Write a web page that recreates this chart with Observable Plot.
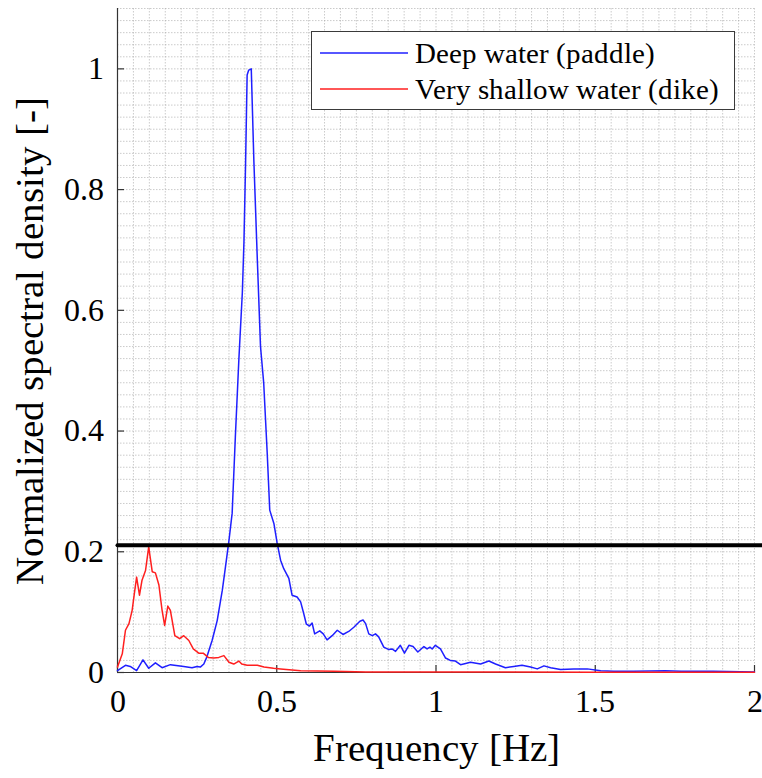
<!DOCTYPE html>
<html>
<head>
<meta charset="utf-8">
<script src="https://cdn.jsdelivr.net/npm/d3@7"></script>
<script src="https://cdn.jsdelivr.net/npm/@observablehq/plot@0.6"></script>
<style>
@font-face { font-family: "ChartSerif"; src: local("Liberation Serif"), local("LiberationSerif"), local("LiberationSerif-Regular"), local("Times New Roman"); }
body { margin: 0; }
</style>
</head>
<body>
<div id="wrap" style="position: relative; width: 762px; height: 778px; font-family: ChartSerif, 'Liberation Serif', serif">
  <div id="legend" style="position: absolute; left: 311px; top: 31px; width: 424px; height: 79px; box-sizing: border-box; border: 1.5px solid #3a3a3a; background: #fff; padding-top: 3px; z-index: 2">
    <div style="display: flex; align-items: center; height: 36px"><svg width="88" height="6" style="margin-left: 8px; margin-right: 7px"><line x1="0" y1="3" x2="88" y2="3" stroke-width="1.5"/></svg><span style="font-size: 29px; white-space: nowrap">Deep water (paddle)</span></div>
    <div style="display: flex; align-items: center; height: 36px"><svg width="88" height="6" style="margin-left: 8px; margin-right: 7px"><line x1="0" y1="3" x2="88" y2="3" stroke-width="1.5"/></svg><span style="font-size: 29px; white-space: nowrap">Very shallow water (dike)</span></div>
  </div>
  <div id="plot"></div>
</div>
<script>
// ---- data ----
const seriesNames = ["Deep water (paddle)", "Very shallow water (dike)"];
const seriesColors = ["#1f1fff", "#ff1f1f"];

const deepFreq = [0, 0.025, 0.04, 0.06, 0.08, 0.098, 0.119, 0.14, 0.166, 0.208, 0.234, 0.25, 0.26, 0.271, 0.28, 0.297, 0.313, 0.329, 0.339, 0.35,
  0.36, 0.37, 0.381, 0.392, 0.397, 0.402, 0.407, 0.412, 0.42, 0.428, 0.439, 0.449, 0.459, 0.47, 0.478, 0.491, 0.501, 0.512, 0.522, 0.538,
  0.548, 0.564, 0.575, 0.585, 0.593, 0.603, 0.611, 0.619, 0.635, 0.646, 0.658, 0.674, 0.69, 0.708, 0.726, 0.742, 0.761, 0.771, 0.779, 0.789,
  0.8, 0.81, 0.82, 0.836, 0.852, 0.862, 0.873, 0.888, 0.901, 0.915, 0.928, 0.943, 0.962, 0.972, 0.981, 0.988, 0.998, 1.014, 1.03, 1.045,
  1.061, 1.077, 1.093, 1.108, 1.14, 1.166, 1.187, 1.218, 1.244, 1.27, 1.297, 1.318, 1.339, 1.36, 1.391, 1.433, 1.475, 1.517, 1.558, 1.62,
  1.72, 1.77, 1.87, 2.0];
const deepDensity = [0.003, 0.012, 0.01, 0.003, 0.021, 0.007, 0.016, 0.008, 0.013, 0.01, 0.008, 0.01, 0.009, 0.014, 0.025, 0.053, 0.086, 0.136, 0.175, 0.219,
  0.264, 0.39, 0.518, 0.63, 0.713, 0.84, 0.99, 0.998, 1.0, 0.85, 0.684, 0.54, 0.48, 0.364, 0.269, 0.247, 0.215, 0.186, 0.172, 0.156,
  0.128, 0.125, 0.117, 0.097, 0.08, 0.077, 0.082, 0.064, 0.069, 0.064, 0.054, 0.061, 0.07, 0.063, 0.068, 0.075, 0.085, 0.087, 0.081, 0.064,
  0.061, 0.064, 0.059, 0.042, 0.038, 0.039, 0.035, 0.045, 0.032, 0.045, 0.043, 0.034, 0.043, 0.039, 0.042, 0.039, 0.045, 0.039, 0.024, 0.02,
  0.019, 0.013, 0.015, 0.017, 0.014, 0.019, 0.014, 0.008, 0.01, 0.012, 0.009, 0.006, 0.011, 0.008, 0.005, 0.006, 0.006, 0.003, 0.002, 0.002,
  0.003, 0.002, 0.002, 0.001];

const shallowFreq = [0, 0.015, 0.025, 0.036, 0.046, 0.053, 0.06, 0.069, 0.077, 0.088, 0.098, 0.109, 0.119, 0.13, 0.14, 0.148, 0.158, 0.166, 0.18, 0.195,
  0.208, 0.224, 0.238, 0.255, 0.269, 0.285, 0.302, 0.318, 0.334, 0.35, 0.365, 0.381, 0.39, 0.407, 0.439, 0.46, 0.49, 0.512, 0.575, 0.68,
  0.78, 1.0, 1.5, 2.0];
const shallowDensity = [0.009, 0.031, 0.07, 0.081, 0.103, 0.131, 0.158, 0.128, 0.153, 0.169, 0.208, 0.167, 0.165, 0.145, 0.103, 0.078, 0.11, 0.103, 0.061, 0.056,
  0.061, 0.053, 0.039, 0.032, 0.032, 0.025, 0.024, 0.025, 0.028, 0.017, 0.014, 0.019, 0.014, 0.012, 0.012, 0.009, 0.007, 0.006, 0.003, 0.002,
  0.001, 0.001, 0.0005, 0.0005];

const thresholdValue = 0.211;
const thresholdSpan = [0, 2.025];

const xTicks = [0, 0.5, 1, 1.5, 2];
const yTicks = [0, 0.2, 0.4, 0.6, 0.8, 1];

// ---- build tables ----
const deep = deepFreq.map((f, i) => ({f, s: deepDensity[i]}));
const shallow = shallowFreq.map((f, i) => ({f, s: shallowDensity[i]}));
const threshold = thresholdSpan.map(f => ({f, s: thresholdValue}));
const xMinor = d3.range(0, 41).map(i => +(i * 0.05).toFixed(2));
const yMinor = d3.range(0, 56).map(i => +(i * 0.02).toFixed(2));

const fontStack = "ChartSerif, 'Liberation Serif', 'DejaVu Serif', serif";
const axisColor = "#333";
const gridStyle = {stroke: "#a8a8a8", strokeOpacity: 0.6, strokeWidth: 1, strokeDasharray: "1.5,1.5"};

const chart = Plot.plot({
  width: 762,
  height: 778,
  marginLeft: 117,
  marginRight: 8,
  marginTop: 8,
  marginBottom: 106,
  style: {fontFamily: fontStack},
  x: {domain: [0, 2]},
  y: {domain: [0, 1.1]},
  marks: [
    Plot.gridX(xMinor, gridStyle),
    Plot.gridY(yMinor, gridStyle),
    Plot.ruleX([0], {stroke: axisColor, strokeWidth: 1.2}),
    Plot.ruleY([0], {stroke: axisColor, strokeWidth: 1.2}),
    Plot.axisX({ticks: xTicks, tickSize: -7, tickPadding: 24, stroke: axisColor, strokeWidth: 1.2, fontSize: 32,
      label: null, tickFormat: d => String(d)}),
    Plot.axisX({ticks: [], fontSize: 38.5, label: "Frequency [Hz]", labelAnchor: "center", labelArrow: "none", labelOffset: 88}),
    Plot.axisY({ticks: yTicks, tickSize: -7, tickPadding: 21, stroke: axisColor, strokeWidth: 1.2, fontSize: 32,
      label: null, tickFormat: d => String(d)}),
    Plot.axisY({ticks: [], fontSize: 39, label: "Normalized spectral density [-]", labelAnchor: "center", labelArrow: "none", labelOffset: 102}),
    Plot.line(deep, {x: "f", y: "s", stroke: seriesColors[0], strokeWidth: 1.5}),
    Plot.line(shallow, {x: "f", y: "s", stroke: seriesColors[1], strokeWidth: 1.5}),
    Plot.line(threshold, {x: "f", y: "s", stroke: "#000", strokeWidth: 4, clip: false})
  ]
});

document.getElementById("plot").appendChild(chart);

// legend swatches and names from the series arrays
document.querySelectorAll("#legend > div").forEach((row, i) => {
  row.querySelector("line").setAttribute("stroke", seriesColors[i]);
  row.querySelector("span").textContent = seriesNames[i];
});

// make the serif face win over any other font rule
document.querySelectorAll("#wrap, #wrap text, #wrap span, #wrap g, #wrap svg").forEach(el => {
  el.style.setProperty("font-family", fontStack, "important");
});
</script>
</body>
</html>
